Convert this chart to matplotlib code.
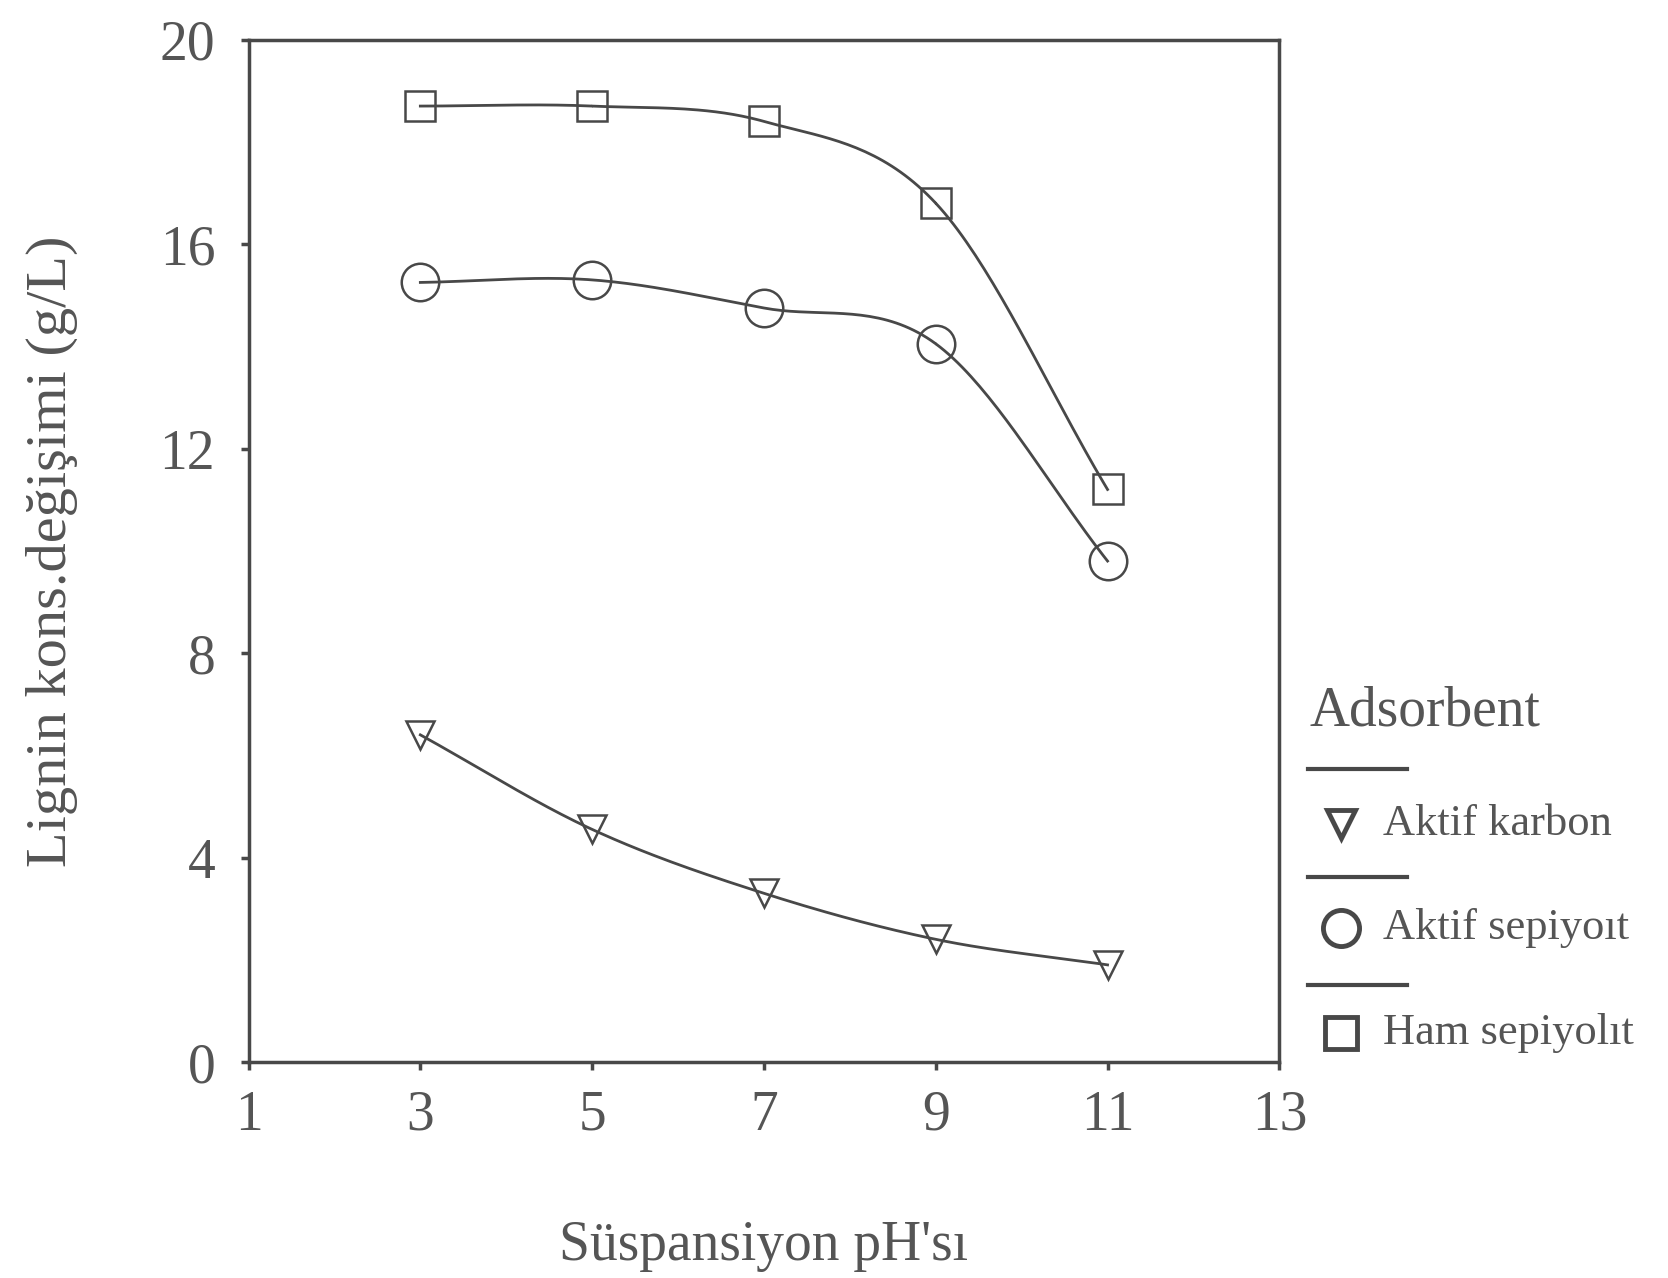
import numpy as np
import matplotlib.pyplot as plt
from matplotlib.lines import Line2D

DPI = 100
PH = [3, 5, 7, 9, 11]
AKTIF_KARBON = [6.4, 4.55, 3.3, 2.4, 1.9]
AKTIF_SEPIYOLIT = [15.25, 15.3, 14.75, 14.05, 9.8]
HAM_SEPIYOLIT = [18.7, 18.7, 18.4, 16.8, 11.2]
XTICKS = [1, 3, 5, 7, 9, 11, 13]
YTICKS = [0, 4, 8, 12, 16, 20]
LABELS = ['Aktif karbon', 'Aktif sepiyoıt', 'Ham sepiyolıt']
MARKERS = ['v', 'o', 's']
MSIZES = [20, 27, 22]

TEXT = '#555555'
LINE = '#484848'

plt.rcParams['font.family'] = ['Liberation Serif', 'DejaVu Serif']


# smooth curve through points (Catmull-Rom), only for drawing the line
def smooth(x, y, n=40):
    x = np.asarray(x, float)
    y = np.asarray(y, float)
    px = np.concatenate([[2 * x[0] - x[1]], x, [2 * x[-1] - x[-2]]])
    py = np.concatenate([[2 * y[0] - y[1]], y, [2 * y[-1] - y[-2]]])
    xs, ys = [], []
    t = np.linspace(0, 1, n)
    for i in range(1, len(px) - 2):
        for p, out in ((px, xs), (py, ys)):
            p0, p1, p2, p3 = p[i - 1], p[i], p[i + 1], p[i + 2]
            out.append(0.5 * (2 * p1 + (-p0 + p2) * t
                              + (2 * p0 - 5 * p1 + 4 * p2 - p3) * t ** 2
                              + (-p0 + 3 * p1 - 3 * p2 + p3) * t ** 3))
    return np.concatenate(xs), np.concatenate(ys)


fig = plt.figure(figsize=(16.68, 12.78), dpi=DPI)
ax = fig.add_axes([0.149, 0.169, 0.618, 0.800])

for vals, m, ms in zip([AKTIF_KARBON, AKTIF_SEPIYOLIT, HAM_SEPIYOLIT], MARKERS, MSIZES):
    sx, sy = smooth(PH, vals)
    ax.plot(sx, sy, color=LINE, linewidth=2)
    ax.plot(PH, vals, linestyle='none', marker=m, markersize=ms,
            markerfacecolor='none', markeredgecolor=LINE, markeredgewidth=1.8)

ax.set_xlim(1, 13)
ax.set_ylim(0, 20)
ax.set_xticks(XTICKS)
ax.set_yticks(YTICKS)
ax.tick_params(axis='both', labelsize=40, colors=LINE, labelcolor=TEXT,
               length=6, width=2.5)
ax.tick_params(axis='x', pad=14)
ax.tick_params(axis='y', pad=18)
for s in ax.spines.values():
    s.set_linewidth(2.5)
    s.set_color(LINE)

ax.set_xlabel("Süspansiyon pH'sı", fontsize=40, color=TEXT)
ax.set_ylabel('Lignin kons.değişimi (g/L)', fontsize=42, color=TEXT)
ax.xaxis.set_label_coords(0.5, -0.155)
ax.yaxis.set_label_coords(-0.165, 0.5)

# legend drawn by hand in figure pixels
W, H = 1668.0, 1278.0
fig.text(1310 / W, 1 - 725 / H, 'Adsorbent', fontsize=40, color=TEXT,
         ha='left', va='baseline')
line_y = [769, 877, 985]
mark_y = [824, 928, 1033]
leg_ms = [20, 26, 23]
for ly, my, m, ms, lab in zip(line_y, mark_y, MARKERS, leg_ms, LABELS):
    fig.add_artist(Line2D([1308 / W, 1407 / W], [1 - ly / H, 1 - ly / H],
                          color=LINE, linewidth=3))
    fig.add_artist(Line2D([1341 / W], [1 - my / H], marker=m, markersize=ms,
                          markerfacecolor='none', markeredgecolor=LINE,
                          markeredgewidth=3.5))
    fig.text(1383 / W, 1 - my / H, lab, fontsize=32, color=TEXT,
             ha='left', va='center')

fig.savefig('out.png', dpi=DPI)
